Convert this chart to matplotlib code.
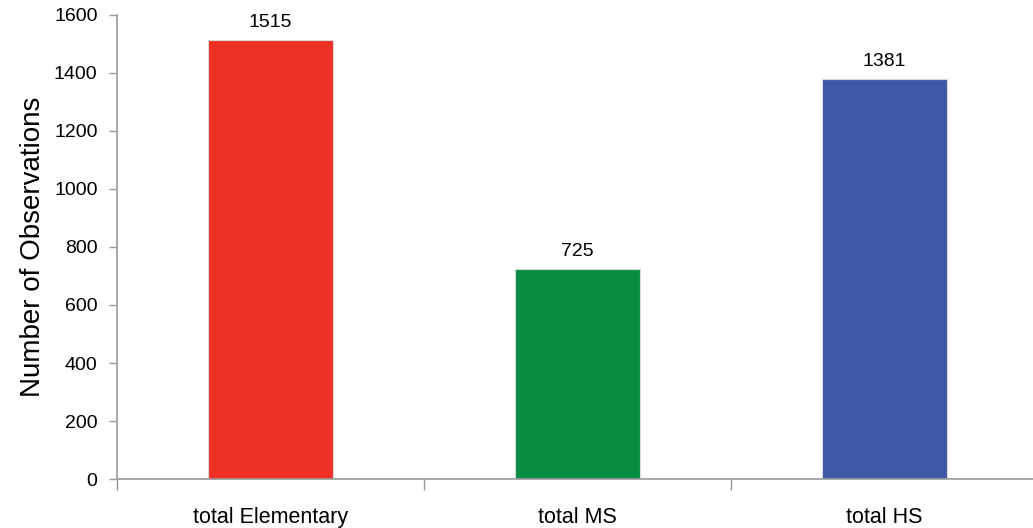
import matplotlib
matplotlib.use("Agg")
import matplotlib.pyplot as plt
import numpy as np

plt.rcParams["font.family"] = ["Liberation Sans", "DejaVu Sans"]

# 学校段階ごとの観測数
categories = ["total Elementary", "total MS", "total HS"]
counts = [1515, 725, 1381]
colors = ["#EE3124", "#078C44", "#3D59A6"]

fig = plt.figure(figsize=(10.33, 5.28), dpi=100)
ax = fig.add_axes([0.1133, 0.0928, 0.8916, 0.8788])

x = np.arange(len(categories))
bars = ax.bar(x, counts, width=0.41, color=colors, edgecolor="#d8d8d8", linewidth=0.8)

for b, v in zip(bars, counts):
    ax.annotate(str(v), (b.get_x() + b.get_width() / 2, v), xytext=(0, 6),
                textcoords="offset points", ha="center", va="bottom", fontsize=14)

ax.set_xlim(-0.5, 2.5)
ax.set_ylim(0, 1600)
ax.set_yticks(range(0, 1601, 200))

# 区切り目盛りは境界に、ラベルは中央に
ax.set_xticks(np.arange(-0.5, 2.6, 1.0))
ax.set_xticklabels([])
ax.set_xticks(x, minor=True)
ax.set_xticklabels(categories, minor=True, fontsize=15.5)
ax.tick_params(axis="x", which="major", length=8, width=1, color="#999999", direction="out")
ax.tick_params(axis="x", which="minor", length=0, pad=20)
ax.tick_params(axis="y", length=6, width=1, color="#999999", labelsize=14, pad=8)

for s in ["top", "right"]:
    ax.spines[s].set_visible(False)
for s in ["left", "bottom"]:
    ax.spines[s].set_color("#999999")
    ax.spines[s].set_linewidth(1.2)

ax.set_ylabel("Number of Observations", fontsize=20, labelpad=6)

fig.savefig("out.png", dpi=100)
